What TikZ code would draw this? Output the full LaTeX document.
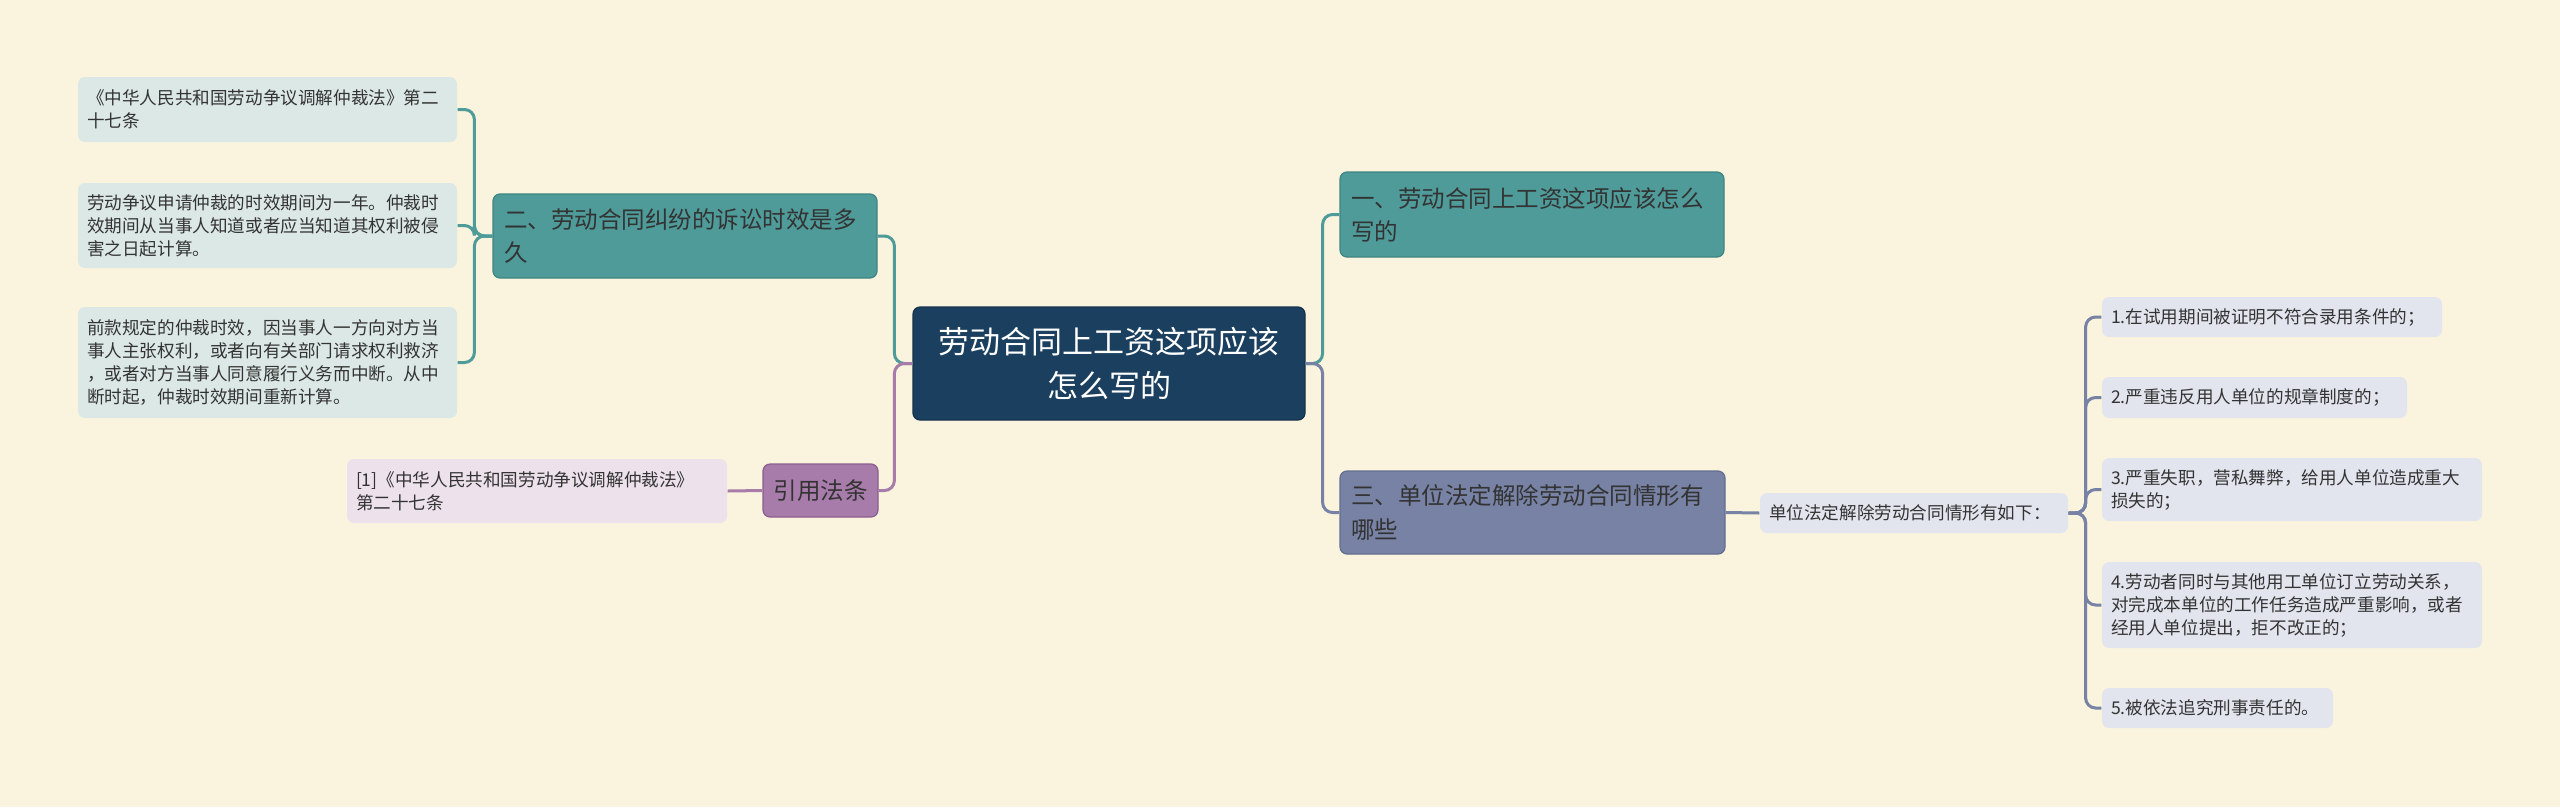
\documentclass[tikz,border=0pt]{standalone}
\usepackage{fontspec}
\setmainfont{Noto Sans CJK SC}
\definecolor{bg}{HTML}{FAF4DE}
\definecolor{cfill}{HTML}{1B3F5E}
\definecolor{cborder}{HTML}{14324C}
\definecolor{teal1}{HTML}{4E9B99}
\definecolor{teal2}{HTML}{3E8583}
\definecolor{tleaf}{HTML}{DCE8E5}
\definecolor{purp1}{HTML}{A77BAA}
\definecolor{purp2}{HTML}{8C5E8F}
\definecolor{pleaf}{HTML}{EDE2EC}
\definecolor{slate1}{HTML}{7782A4}
\definecolor{slate2}{HTML}{646E8F}
\definecolor{sleaf}{HTML}{E2E5EE}
\definecolor{txt}{HTML}{333333}
\begin{document}
\begin{tikzpicture}[x=1pt,y=-1pt,
  box/.style={rectangle, rounded corners=7pt, inner ysep=0pt, align=left, anchor=center, line width=1.2pt},
  leaffont/.style={font=\fontsize{17.6}{23}\selectfont},
  branchfont/.style={font=\fontsize{23.5}{33}\selectfont},
  cnode/.style={box, fill=cfill, draw=cborder, text=white, align=center, inner xsep=11pt, font=\fontsize{31}{44}\selectfont},
  tbranch/.style={box, branchfont, fill=teal1, draw=teal2, text=txt, inner xsep=11pt},
  sbranch/.style={box, branchfont, fill=slate1, draw=slate2, text=txt, inner xsep=11pt},
  pbranch/.style={box, branchfont, fill=purp1, draw=purp2, text=txt, align=center, inner xsep=0pt},
  tleafbox/.style={box, leaffont, fill=tleaf, draw=none, text=txt, inner xsep=9pt},
  pleafbox/.style={box, leaffont, fill=pleaf, draw=none, text=txt, inner xsep=9pt},
  sleafbox/.style={box, leaffont, fill=sleaf, draw=none, text=txt, inner xsep=9pt},
  conn/.style={line width=3pt, rounded corners=10pt},
  tline/.style={conn, draw=teal1},
  pline/.style={conn, draw=purp1},
  sline/.style={conn, draw=slate1}
]
\fill[bg] (0,0) rectangle (2560,807);
\useasboundingbox (0,0) rectangle (2560,807);

% central
\node[cnode, text width=370pt, minimum height=113pt] (c) at (1109,363.5) {劳动合同上工资这项应该\\怎么写的};

% left side
\node[tbranch, text width=362pt, minimum height=84pt] (n2) at (685,236) {二、劳动合同纠纷的诉讼时效是多\\久};
\node[tleafbox, text width=361pt, minimum height=65pt] (a1) at (267.5,109.5) {《中华人民共和国劳动争议调解仲裁法》第二\\十七条};
\node[tleafbox, text width=361pt, minimum height=85pt] (a2) at (267.5,225.5) {劳动争议申请仲裁的时效期间为一年。仲裁时\\效期间从当事人知道或者应当知道其权利被侵\\害之日起计算。};
\node[tleafbox, text width=361pt, minimum height=111pt] (a3) at (267.5,362.5) {前款规定的仲裁时效，因当事人一方向对方当\\事人主张权利，或者向有关部门请求权利救济\\，或者对方当事人同意履行义务而中断。从中\\断时起，仲裁时效期间重新计算。};
\node[pbranch, text width=115pt, minimum height=53pt] (yy) at (820.5,490.5) {引用法条};
\node[pleafbox, text width=362pt, minimum height=64pt] (ref) at (537,491) {[1]《中华人民共和国劳动争议调解仲裁法》\\第二十七条};

% right side
\node[tbranch, text width=362pt, minimum height=85pt] (n1) at (1532,214.5) {一、劳动合同上工资这项应该怎么\\写的};
\node[sbranch, text width=363pt, minimum height=83pt] (n3) at (1532.5,512.5) {三、单位法定解除劳动合同情形有\\哪些};
\node[sleafbox, text width=290pt, minimum height=40pt] (u) at (1914,513) {单位法定解除劳动合同情形有如下：};
\node[sleafbox, text width=322pt, minimum height=40pt] (i1) at (2272,317) {1.在试用期间被证明不符合录用条件的；};
\node[sleafbox, text width=287pt, minimum height=41pt] (i2) at (2254.5,397.5) {2.严重违反用人单位的规章制度的；};
\node[sleafbox, text width=362pt, minimum height=63pt] (i3) at (2292,489.5) {3.严重失职，营私舞弊，给用人单位造成重大\\损失的；};
\node[sleafbox, text width=362pt, minimum height=86pt] (i4) at (2292,605) {4.劳动者同时与其他用工单位订立劳动关系，\\对完成本单位的工作任务造成严重影响，或者\\经用人单位提出，拒不改正的；};
\node[sleafbox, text width=213pt, minimum height=40pt] (i5) at (2217.5,708) {5.被依法追究刑事责任的。};

% connectors
\draw[tline] (c.west) -- ++(-18,0) |- (n2.east);
\draw[pline] (c.west) -- ++(-18,0) |- (yy.east);
\draw[tline] (c.east) -- ++(17,0) |- (n1.west);
\draw[sline] (c.east) -- ++(17,0) |- (n3.west);
\draw[tline] (n2.west) -- ++(-18,0) |- (a1.east);
\draw[tline] (n2.west) -- ++(-18,0) |- (a2.east);
\draw[tline] (n2.west) -- ++(-18,0) |- (a3.east);
\draw[pline] (yy.west) -- (ref.east);
\draw[sline] (n3.east) -- (u.west);
\draw[sline] (u.east) -- ++(17,0) |- (i1.west);
\draw[sline] (u.east) -- ++(17,0) |- (i2.west);
\draw[sline] (u.east) -- ++(17,0) |- (i3.west);
\draw[sline] (u.east) -- ++(17,0) |- (i4.west);
\draw[sline] (u.east) -- ++(17,0) |- (i5.west);
\end{tikzpicture}
\end{document}
